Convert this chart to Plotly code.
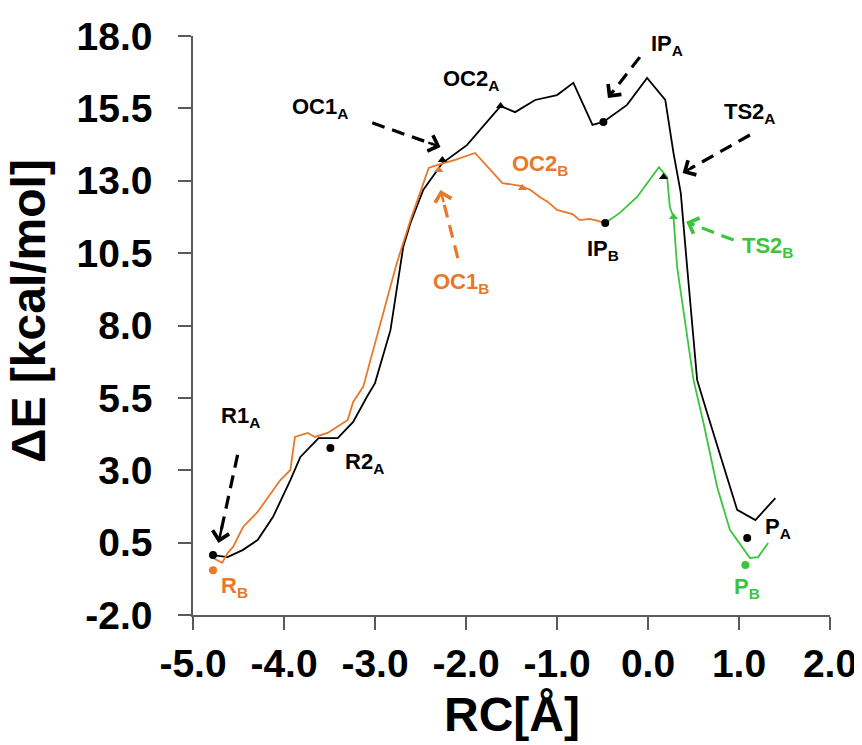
import plotly.graph_objects as go

BLACK = "#000000"
ORANGE = "#E8782A"
GREEN = "#3CC43C"
AXIS = "#5a5a5a"
FONT = "Arial, Liberation Sans, sans-serif"

# ---- Path A (black) ----
rc_A = [-4.78, -4.62, -4.45, -4.29, -4.12, -3.93, -3.82, -3.62, -3.41, -3.24, -3.09, -3.00,
        -2.83, -2.69, -2.61, -2.47, -2.26, -1.99, -1.62, -1.46, -1.24, -1.00, -0.82, -0.61,
        -0.49, -0.23, -0.01, 0.19, 0.28, 0.36, 0.43, 0.54, 0.65, 0.80, 0.98, 1.18, 1.40]
e_A = [0.07, 0.00, 0.25, 0.59, 1.39, 2.66, 3.46, 4.11, 4.11, 4.67, 5.53, 6.01,
       7.84, 10.71, 11.54, 12.68, 13.61, 14.23, 15.58, 15.37, 15.79, 15.96, 16.38, 14.93,
       15.03, 15.62, 16.55, 15.79, 13.96, 12.58, 10.02, 6.12, 4.98, 3.46, 1.63, 1.28, 2.04]

# ---- Path B, first part (orange) ----
rc_B1 = [-4.78, -4.68, -4.62, -4.56, -4.45, -4.29, -4.04, -3.93, -3.88, -3.74, -3.66, -3.52,
         -3.30, -3.24, -3.13, -2.94, -2.76, -2.61, -2.45, -2.41, -2.32, -2.12, -1.90, -1.60,
         -1.40, -1.29, -1.19, -1.10, -1.00, -0.91, -0.83, -0.75, -0.64, -0.55, -0.47]
e_B1 = [-0.03, -0.20, 0.14, 0.35, 1.04, 1.56, 2.66, 3.01, 4.15, 4.29, 4.15, 4.29,
        4.74, 5.36, 5.88, 8.09, 10.16, 11.64, 13.03, 13.44, 13.54, 13.72, 13.96, 12.92,
        12.82, 12.68, 12.44, 12.27, 11.99, 11.92, 11.85, 11.64, 11.68, 11.61, 11.54]

# ---- Path B, second part (green) ----
rc_B2 = [-0.47, -0.31, -0.12, 0.12, 0.21, 0.24, 0.28, 0.32, 0.50, 0.61, 0.76, 0.90, 1.12, 1.21, 1.32]
e_B2 = [11.54, 11.89, 12.44, 13.47, 13.13, 12.09, 11.75, 10.02, 6.12, 4.63, 2.42, 0.94, -0.03, 0.00, 0.49]

# ---- stationary points ----
dot_rc = [-4.78, -4.78, -3.49, -0.49, -0.47, 1.09, 1.07]
dot_e = [0.07, -0.45, 3.77, 15.03, 11.54, 0.66, -0.27]
dot_col = [BLACK, ORANGE, BLACK, BLACK, BLACK, BLACK, GREEN]

tri_rc = [-2.26, -2.30, -1.62, -1.38, 0.17, 0.28]
tri_e = [13.72, 13.37, 15.58, 12.75, 13.13, 11.75]
tri_col = [BLACK, ORANGE, BLACK, ORANGE, BLACK, GREEN]

# ---- labels ----
lab_text = ["R1<sub>A</sub>", "R<sub>B</sub>", "R2<sub>A</sub>", "OC1<sub>A</sub>", "OC2<sub>A</sub>",
            "OC1<sub>B</sub>", "OC2<sub>B</sub>", "IP<sub>A</sub>", "IP<sub>B</sub>", "TS2<sub>A</sub>",
            "TS2<sub>B</sub>", "P<sub>A</sub>", "P<sub>B</sub>"]
lab_rc = [-4.48, -4.54, -3.11, -3.60, -1.95, -2.06, -1.19, 0.21, -0.50, 1.12, 1.31, 1.43, 1.09]
lab_e = [4.84, -1.03, 3.25, 15.51, 16.48, 9.47, 13.54, 17.69, 10.61, 15.34, 10.71, 1.01, -1.07]
lab_col = [BLACK, ORANGE, BLACK, BLACK, BLACK, ORANGE, ORANGE, BLACK, BLACK, BLACK, GREEN, BLACK, GREEN]

# ---- dashed arrows (tail -> head) ----
arr_tail_rc = [-3.03, -0.09, 1.12, 0.94, -4.51, -2.09]
arr_tail_e = [15.00, 17.27, 14.58, 10.95, 3.53, 10.33]
arr_head_rc = [-2.28, -0.44, 0.38, 0.42, -4.72, -2.28]
arr_head_e = [14.17, 15.86, 13.27, 11.58, 0.49, 12.68]
arr_col = [BLACK, BLACK, BLACK, GREEN, BLACK, ORANGE]

x_ticks = [-5, -4, -3, -2, -1, 0, 1, 2]
x_ticktext = ["-5.0", "-4.0", "-3.0", "-2.0", "-1.0", "0.0", "1.0", "2.0"]
y_ticks = [-2, 0.5, 3, 5.5, 8, 10.5, 13, 15.5, 18]
y_ticktext = ["-2.0", "0.5", "3.0", "5.5", "8.0", "10.5", "13.0", "15.5", "18.0"]

fig = go.Figure()

fig.add_trace(go.Scatter(x=rc_A, y=e_A, mode="lines", line=dict(color=BLACK, width=1.8)))
fig.add_trace(go.Scatter(x=rc_B1, y=e_B1, mode="lines", line=dict(color=ORANGE, width=1.8)))
fig.add_trace(go.Scatter(x=rc_B2, y=e_B2, mode="lines", line=dict(color=GREEN, width=1.8)))

fig.add_trace(go.Scatter(x=dot_rc, y=dot_e, mode="markers",
                         marker=dict(symbol="circle", size=8, color=dot_col)))
fig.add_trace(go.Scatter(x=tri_rc, y=tri_e, mode="markers",
                         marker=dict(symbol="triangle-up", size=8, color=tri_col)))

annotations = []
for tx, ty, hx, hy, c in zip(arr_tail_rc, arr_tail_e, arr_head_rc, arr_head_e, arr_col):
    ex = hx + 0.12 * (tx - hx)
    ey = hy + 0.12 * (ty - hy)
    fig.add_trace(go.Scatter(x=[tx, ex], y=[ty, ey], mode="lines",
                             line=dict(color=c, width=3.2, dash="13px,8px")))
    annotations.append(dict(x=hx, y=hy, ax=hx + 0.2 * (tx - hx), ay=hy + 0.2 * (ty - hy),
                            xref="x", yref="y", axref="x", ayref="y", text="",
                            showarrow=True, arrowhead=4, arrowsize=1.3, arrowwidth=2.5,
                            arrowcolor=c))

for t, x, y, c in zip(lab_text, lab_rc, lab_e, lab_col):
    annotations.append(dict(x=x, y=y, xref="x", yref="y", text=t, showarrow=False,
                            xanchor="center", yanchor="middle",
                            font=dict(family=FONT, size=22, color=c, weight="bold")))

annotations.append(dict(x=-0.259, y=0.525, xref="paper", yref="paper", text="ΔE [kcal/mol]",
                        textangle=-90, showarrow=False, xanchor="center", yanchor="middle",
                        font=dict(family=FONT, size=48, color=BLACK, weight="bold")))
annotations.append(dict(x=0.5, y=-0.172, xref="paper", yref="paper", text="RC[Å]",
                        showarrow=False, xanchor="center", yanchor="middle",
                        font=dict(family=FONT, size=48, color=BLACK, weight="bold")))

fig.update_layout(
    width=862, height=745,
    margin=dict(l=185, r=40, t=28, b=138, autoexpand=False),
    paper_bgcolor="white", plot_bgcolor="white",
    showlegend=False,
    annotations=annotations,
)
fig.update_xaxes(range=[-5, 2], tickvals=x_ticks, ticktext=x_ticktext, automargin=False,
                 showline=True, linecolor=AXIS, linewidth=1.5, ticks="outside",
                 ticklen=13, tickwidth=1.5, tickcolor=AXIS, showgrid=False, zeroline=False,
                 ticklabelstandoff=0,
                 tickfont=dict(family=FONT, size=39, color=BLACK, weight="bold"))
fig.update_yaxes(range=[-2, 18], tickvals=y_ticks, ticktext=y_ticktext, automargin=False,
                 showline=True, linecolor=AXIS, linewidth=1.5, ticks="outside",
                 ticklen=13, tickwidth=1.5, tickcolor=AXIS, showgrid=False, zeroline=False,
                 ticklabelstandoff=18,
                 tickfont=dict(family=FONT, size=39, color=BLACK, weight="bold"))

fig.write_html("out.html")
